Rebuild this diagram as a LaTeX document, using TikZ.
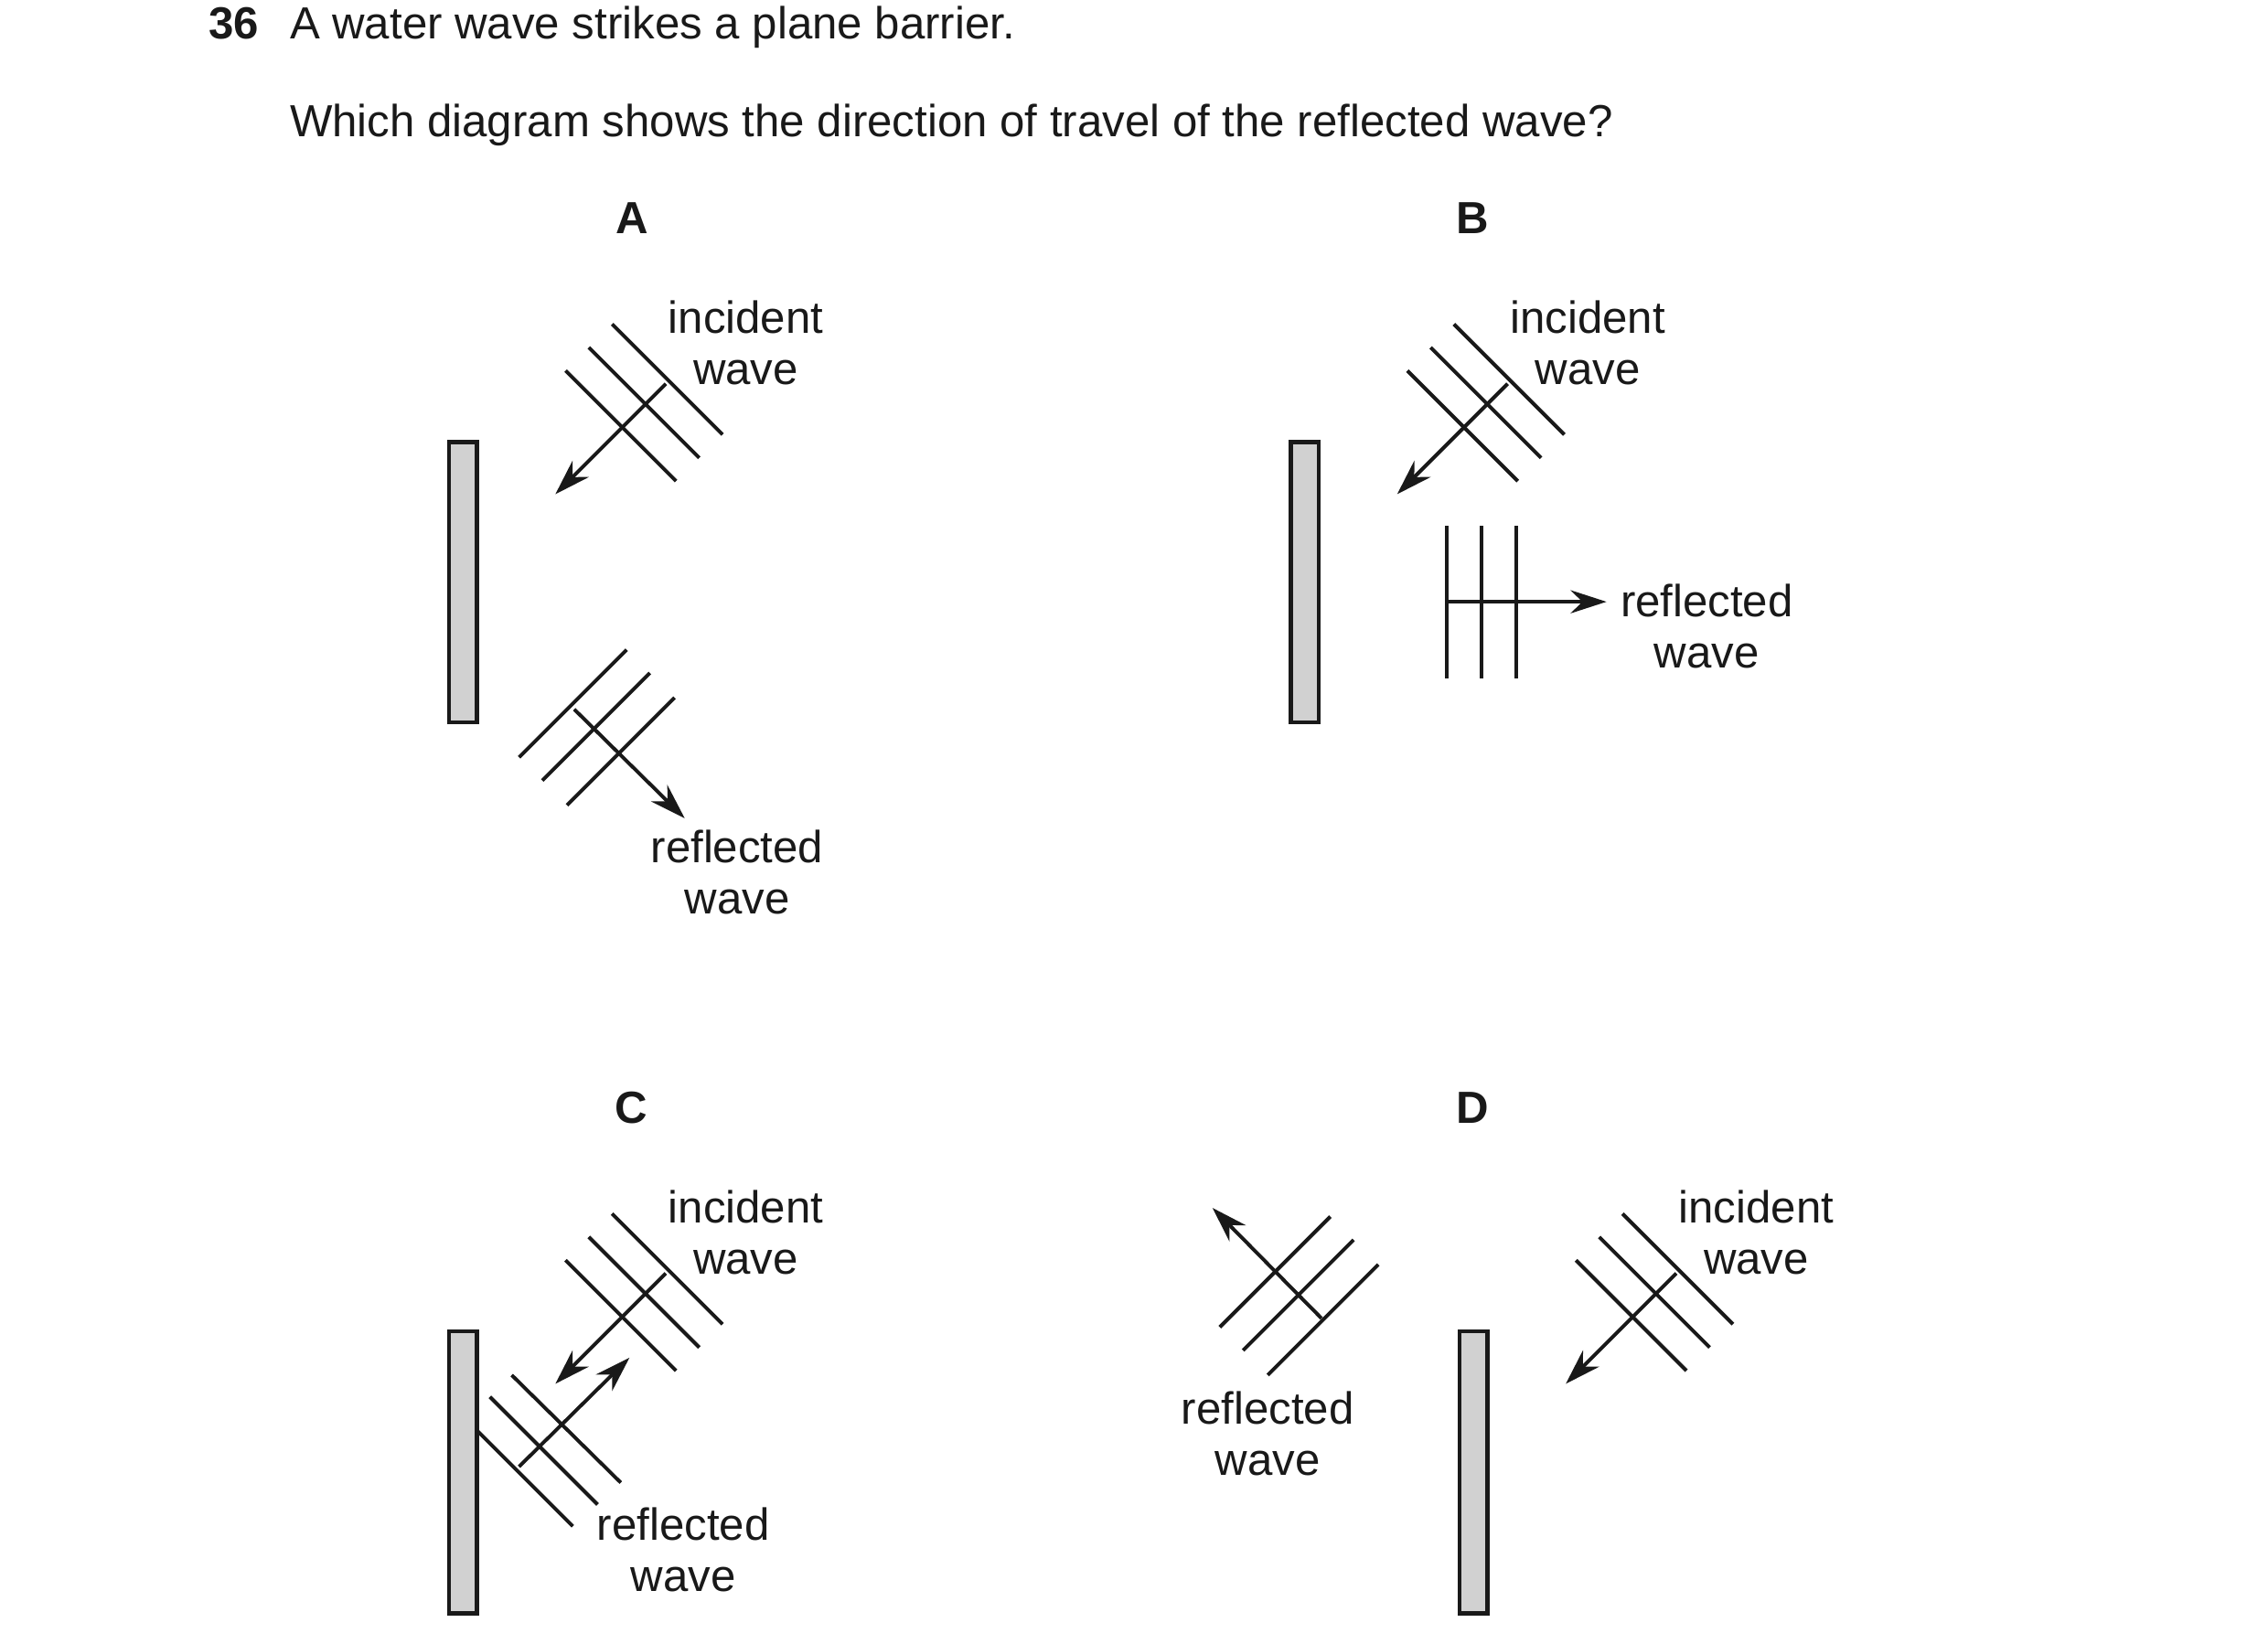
\documentclass[tikz,border=0pt]{standalone}
\usepackage{fontspec}
\setmainfont{Liberation Sans}
\usetikzlibrary{arrows.meta}
\begin{document}
\begin{tikzpicture}[x=0.01cm,y=-0.01cm,
  wf/.style={line width=0.7pt,black!90},
  ar/.style={line width=0.7pt,black!90,-{Stealth[length=7pt,width=4.5pt]}},
  bar/.style={draw=black!90,line width=0.8pt,fill=black!18},
  lab/.style={font=\fontsize{8.8}{10}\selectfont,align=center,text=black!90},
  ttl/.style={font=\fontsize{8.8}{10}\selectfont,anchor=base west,text=black!90}]
\useasboundingbox (0,0) rectangle (1560,1131);
\node[ttl,font=\fontsize{8.8}{10}\selectfont\bfseries] (q) at (131,27) {36};
\node[ttl] (t1) at (187,27) {A water wave strikes a plane barrier.};
\node[ttl] (t2) at (187,94) {Which diagram shows the direction of travel of the reflected wave?};
\foreach \l/\x/\y in {A/435/150,B/1013/150,C/434/762,D/1013/762}
  \node[lab,font=\fontsize{8.8}{10}\selectfont\bfseries] (L\l) at (\x,\y) {\l};
% A
\draw[bar] (309,304) rectangle (328,497);
\foreach \d in {0,16,32} \draw[wf] (421-\d,223+\d) -- (497-\d,299+\d);
\draw[ar] (458,264) -- (382,340);
\node[lab] (Ai) at (513,236) {incident\\wave};
\foreach \d in {0,16,33} \draw[wf] (431+\d,447+\d) -- (357+\d,521+\d);
\draw[ar] (395,488) -- (471,563);
\node[lab] (Ar) at (507,600) {reflected\\wave};
% B
\draw[bar] (888,304) rectangle (907,497);
\foreach \d in {0,16,32} \draw[wf] (1000-\d,223+\d) -- (1076-\d,299+\d);
\draw[ar] (1037,264) -- (961,340);
\node[lab] (Bi) at (1092,236) {incident\\wave};
\foreach \x in {995,1019,1043} \draw[wf] (\x,362) -- (\x,467);
\draw[ar] (995,414) -- (1105,414);
\node[lab] (Br) at (1174,431) {reflected\\wave};
% C
\draw[bar] (309,916) rectangle (328,1110);
\foreach \d in {0,16,32} \draw[wf] (421-\d,835+\d) -- (497-\d,911+\d);
\draw[ar] (458,876) -- (382,952);
\node[lab] (Ci) at (513,848) {incident\\wave};
\draw[wf] (352,946) -- (427,1020);
\draw[wf] (337,961) -- (411,1035);
\draw[wf] (328,984) -- (394,1050);
\draw[ar] (357,1009) -- (433,934);
\node[lab] (Cr) at (470,1066) {reflected\\wave};
% D
\draw[bar] (1004,916) rectangle (1023,1110);
\foreach \d in {0,16,32} \draw[wf] (1116-\d,835+\d) -- (1192-\d,911+\d);
\draw[ar] (1153,876) -- (1077,952);
\node[lab] (Di) at (1208,848) {incident\\wave};
\foreach \d in {0,16,33} \draw[wf] (915+\d,837+\d) -- (839+\d,913+\d);
\draw[ar] (909,907) -- (834,831);
\node[lab] (Dr) at (872,986) {reflected\\wave};
\end{tikzpicture}
\end{document}
